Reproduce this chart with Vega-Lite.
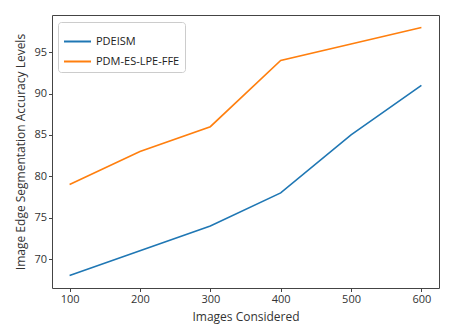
{
  "$schema": "https://vega.github.io/schema/vega-lite/v6.json",
  "width": 387,
  "height": 273,
  "autosize": {"type": "none"},
  "padding": {"left": 52, "top": 15, "right": 13, "bottom": 47},
  "background": "white",
  "config": {
    "font": "Open Sans",
    "view": {"stroke": "#444444", "strokeWidth": 1},
    "axis": {
      "grid": false,
      "domain": false,
      "tickColor": "#444444",
      "tickSize": 3.5,
      "labelFontSize": 11,
      "labelColor": "#333333",
      "titleFontSize": 12,
      "titleFontWeight": "normal",
      "titleColor": "#333333"
    }
  },
  "data": {
    "values": [
      {"images": 100, "accuracy": 68, "method": "PDEISM"},
      {"images": 200, "accuracy": 71, "method": "PDEISM"},
      {"images": 300, "accuracy": 74, "method": "PDEISM"},
      {"images": 400, "accuracy": 78, "method": "PDEISM"},
      {"images": 500, "accuracy": 85, "method": "PDEISM"},
      {"images": 600, "accuracy": 91, "method": "PDEISM"},
      {"images": 100, "accuracy": 79, "method": "PDM-ES-LPE-FFE"},
      {"images": 200, "accuracy": 83, "method": "PDM-ES-LPE-FFE"},
      {"images": 300, "accuracy": 86, "method": "PDM-ES-LPE-FFE"},
      {"images": 400, "accuracy": 94, "method": "PDM-ES-LPE-FFE"},
      {"images": 500, "accuracy": 96, "method": "PDM-ES-LPE-FFE"},
      {"images": 600, "accuracy": 98, "method": "PDM-ES-LPE-FFE"}
    ]
  },
  "mark": {"type": "line", "strokeWidth": 1.6},
  "encoding": {
    "x": {
      "field": "images",
      "type": "quantitative",
      "scale": {"domain": [75, 625], "nice": false, "zero": false},
      "axis": {"values": [100, 200, 300, 400, 500, 600], "title": "Images Considered", "titlePadding": 7}
    },
    "y": {
      "field": "accuracy",
      "type": "quantitative",
      "scale": {"domain": [66.5, 99.5], "nice": false, "zero": false},
      "axis": {"values": [70, 75, 80, 85, 90, 95], "title": "Image Edge Segmentation Accuracy Levels", "titlePadding": 6}
    },
    "color": {
      "field": "method",
      "type": "nominal",
      "scale": {"domain": ["PDEISM", "PDM-ES-LPE-FFE"], "range": ["#1f77b4", "#ff7f0e"]},
      "legend": {
        "title": null,
        "orient": "none",
        "legendX": 6,
        "legendY": 7,
        "symbolType": "stroke",
        "symbolSize": 729,
        "symbolStrokeWidth": 2,
        "labelFontSize": 11,
        "labelColor": "#222222",
        "rowPadding": -8,
        "padding": 5,
        "strokeColor": "#cccccc",
        "fillColor": "white",
        "cornerRadius": 3
      }
    }
  }
}
